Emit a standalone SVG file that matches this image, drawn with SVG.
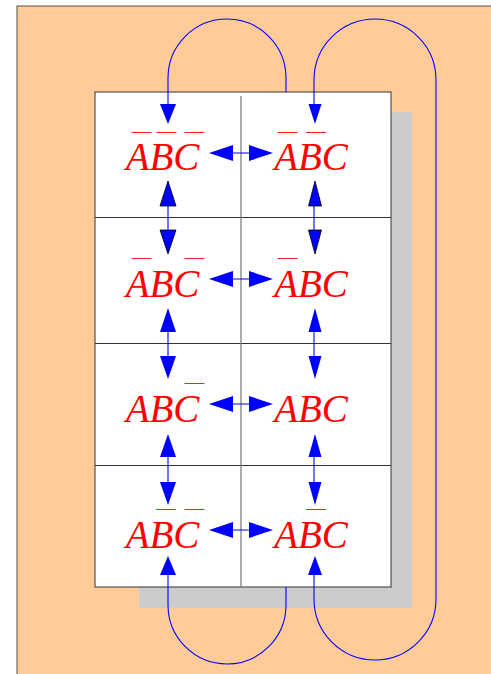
<svg xmlns="http://www.w3.org/2000/svg" width="491" height="674" viewBox="0 0 491 674">
<style>
.t{font-family:"Liberation Serif","Times New Roman",serif;font-style:italic;font-size:39px;fill:#ff0000;text-anchor:middle}
.bar{fill:#ff2020;stroke:none}
.grid{stroke:#333333;stroke-width:1}
.c{stroke:#0000ff;stroke-width:1.1;fill:none}
.h{fill:#0000ff;stroke:none}
.hb{fill:#0000ff;stroke:#000000;stroke-width:0.8}
</style>
<rect x="17" y="6" width="490" height="690" fill="#ffcc99" stroke="#5b4d40" stroke-width="1"/>
<rect x="139" y="112" width="273" height="496" fill="#cccccc"/>
<g id="table">
<rect x="95" y="92" width="296" height="495" style="fill:#ffffff" class="grid"/>
<line x1="95" y1="217.5" x2="391" y2="217.5" class="grid"/>
<line x1="95" y1="343.5" x2="391" y2="343.5" class="grid"/>
<line x1="95" y1="465.5" x2="391" y2="465.5" class="grid"/>
<line x1="241" y1="96" x2="241" y2="587" stroke="#777777" stroke-width="1.2"/>
</g>
<g id="connectors">
<path class="c" d="M286,92 V78 A59,59 0 0 0 168,78 V104"/>
<path class="c" d="M314,104 V80 A61,61 0 0 1 436,80 V599 A61,61 0 0 1 314,599 V575"/>
<path class="c" d="M168,575 V605 A59,59 0 0 0 286,605 V587"/>
<path class="c" d="M168,206 V230 M168,332 V356 M168,457 V482 M314,206 V230 M314,332 V356 M314,457 V482"/>
<path class="c" d="M233,153 H249 M233,279 H249 M233,404 H249 M233,530 H249"/>
<polygon class="h" points="160,104 176,104 168,124"/>
<polygon class="h" points="308.5,104 321.5,104 315,124"/>
<polygon class="hb" points="168,181 176,206 160,206"/>
<polygon class="hb" points="160,230 176,230 168,254"/>
<polygon class="hb" points="315,181 321.5,206 308.5,206"/>
<polygon class="hb" points="308.5,230 321.5,230 315,254"/>
<polygon class="h" points="168,308 176,332 160,332"/>
<polygon class="h" points="160,356 176,356 168,379"/>
<polygon class="h" points="315,308 321.5,332 308.5,332"/>
<polygon class="h" points="308.5,356 321.5,356 315,379"/>
<polygon class="h" points="168,434 176,457 160,457"/>
<polygon class="h" points="160,482 176,482 168,505"/>
<polygon class="h" points="315,434 321.5,457 308.5,457"/>
<polygon class="h" points="308.5,482 321.5,482 315,505"/>
<polygon class="h" points="168,556 176,575 160,575"/>
<polygon class="h" points="315,556 322,575 308,575"/>
<polygon class="h" points="209,153 233,145 233,161"/>
<polygon class="h" points="273,153 249,145 249,161"/>
<polygon class="h" points="209,279 233,271 233,287"/>
<polygon class="h" points="273,279 249,271 249,287"/>
<polygon class="h" points="209,404 233,396 233,412"/>
<polygon class="h" points="273,404 249,396 249,412"/>
<polygon class="h" points="209,530 233,522 233,538"/>
<polygon class="h" points="273,530 249,522 249,538"/>
</g>
<g id="cell-r1c1"><text class="t" x="162.5" y="170">ABC</text>
<rect class="bar" x="131.5" y="132" width="20" height="1"/><rect class="bar" x="156.5" y="132" width="20" height="1"/><rect class="bar" x="184.5" y="132" width="20" height="1"/></g>
<g id="cell-r1c2"><text class="t" x="311" y="170">ABC</text>
<rect class="bar" x="277.5" y="132" width="20" height="1"/><rect class="bar" x="306" y="132" width="20" height="1"/></g>
<g id="cell-r2c1"><text class="t" x="162.5" y="296.5">ABC</text>
<rect class="bar" x="131.5" y="258" width="20" height="1"/><rect class="bar" x="184.5" y="258" width="20" height="1"/></g>
<g id="cell-r2c2"><text class="t" x="311" y="296.5">ABC</text>
<rect class="bar" x="277.5" y="258" width="20" height="1"/></g>
<g id="cell-r3c1"><text class="t" x="162.5" y="422">ABC</text>
<rect class="bar" x="184.5" y="383" width="20" height="1"/></g>
<g id="cell-r3c2"><text class="t" x="311" y="422">ABC</text></g>
<g id="cell-r4c1"><text class="t" x="162.5" y="548">ABC</text>
<rect class="bar" x="156" y="509" width="20" height="1"/><rect class="bar" x="184.5" y="509" width="20" height="1"/></g>
<g id="cell-r4c2"><text class="t" x="311" y="548">ABC</text>
<rect class="bar" x="306" y="509" width="20" height="1"/></g>
</svg>
